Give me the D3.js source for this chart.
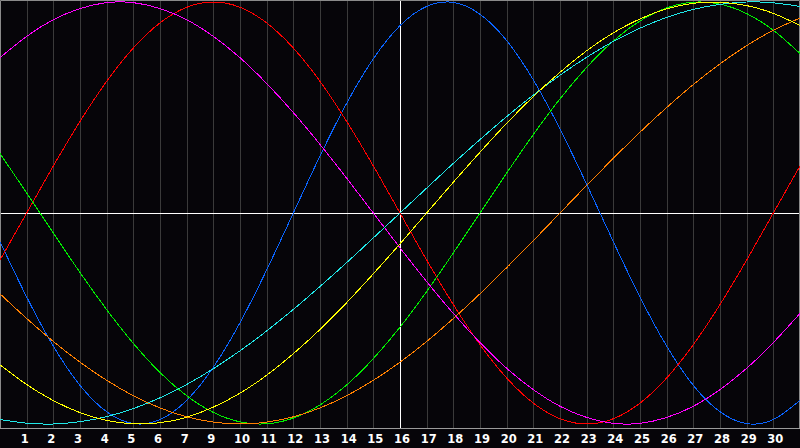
<!DOCTYPE html>
<html lang="en">
<head>
<meta charset="utf-8">
<title>Biorhythm</title>
<script type="text/javascript" src="https://d3js.org/d3.v7.min.js"></script>
<style>
  body { margin: 0; background: #060509; }
  svg { display: block; }
</style>
</head>
<body>
<div id="bod"></div>
<script type="text/javascript">
  // day labels under the grid lines (8 is not shown on the original)
  let dayLabels = [1,2,3,4,5,6,7,9,10,11,12,13,14,15,16,17,18,19,20,21,22,23,24,25,26,27,28,29,30]

  // readings per day column, 0..30
  let physical = [-0.136,-0.398,-0.631,-0.817,-0.942,-0.998,-0.979,-0.888,-0.731,-0.520,-0.270,0,0.270,0.520,0.731,0.888,0.979,0.998,0.942,0.817,0.631,0.398,0.136,-0.136,-0.398,-0.631,-0.817,-0.942,-0.998,-0.979,-0.888]
  let emotional = [-0.223,0,0.223,0.434,0.624,0.782,0.901,0.975,1,0.975,0.901,0.782,0.624,0.434,0.223,0,-0.223,-0.434,-0.624,-0.782,-0.901,-0.975,-1,-0.975,-0.901,-0.782,-0.624,-0.434,-0.223,0,0.223]
  let intellectual = [0.282,0.095,-0.095,-0.282,-0.458,-0.618,-0.756,-0.866,-0.945,-0.990,-0.999,-0.972,-0.910,-0.815,-0.690,-0.541,-0.372,-0.189,0,0.189,0.372,0.541,0.690,0.815,0.910,0.972,0.999,0.990,0.945,0.866,0.756]
  let intuitive = [0.736,0.837,0.916,0.969,0.997,0.997,0.969,0.916,0.837,0.736,0.614,0.476,0.325,0.165,0,-0.165,-0.325,-0.476,-0.614,-0.736,-0.837,-0.916,-0.969,-0.997,-0.997,-0.969,-0.916,-0.837,-0.736,-0.614,-0.476]
  let aesthetic = [-0.720,-0.813,-0.889,-0.946,-0.983,-0.999,-0.994,-0.968,-0.920,-0.854,-0.769,-0.667,-0.552,-0.425,-0.288,-0.146,0,0.146,0.288,0.425,0.552,0.667,0.769,0.854,0.920,0.968,0.994,0.999,0.983,0.946,0.889]
  let awareness = [-0.383,-0.5,-0.609,-0.707,-0.793,-0.866,-0.924,-0.966,-0.991,-1,-0.991,-0.966,-0.924,-0.866,-0.793,-0.707,-0.609,-0.5,-0.383,-0.259,-0.131,0,0.131,0.259,0.383,0.5,0.609,0.707,0.793,0.866,0.924]
  let spiritual = [-0.979,-0.996,-1,-0.989,-0.965,-0.927,-0.876,-0.813,-0.738,-0.653,-0.559,-0.457,-0.348,-0.235,-0.118,0,0.118,0.235,0.348,0.457,0.559,0.653,0.738,0.813,0.876,0.927,0.965,0.989,1,0.996,0.979]

  let series = [
    {name: "physical", values: physical, color: "#0a64ff"},
    {name: "emotional", values: emotional, color: "#ff0000"},
    {name: "intellectual", values: intellectual, color: "#00ee00"},
    {name: "intuitive", values: intuitive, color: "#ff00ff"},
    {name: "awareness", values: awareness, color: "#ff8000"},
    {name: "spiritual", values: spiritual, color: "#20e8e8"},
    {name: "aesthetic", values: aesthetic, color: "#ffff00"}
  ]

  let w = 800
  let h = 448
  let plotBottom = 428

  let svg = d3.select("#bod")
              .append("svg")
              .attr("width", w)
              .attr("height", h);

  svg.append("rect")
      .attr("width", w)
      .attr("height", h)
      .attr("fill", "#060509");

  var x = d3.scaleLinear()
      .domain([0, 30])
      .range([0, w]);
  var y = d3.scaleLinear()
      .domain([-1, 1])
      .range([424, 2]);

  // vertical grid lines, one per day
  let days = d3.range(1, 30)
  svg.append("g")
    .selectAll("line")
    .data(days)
    .enter().append("line")
      .attr("x1", d => Math.round(x(d)) + 0.5)
      .attr("x2", d => Math.round(x(d)) + 0.5)
      .attr("y1", 0)
      .attr("y2", plotBottom)
      .attr("stroke", d => d == 15 ? "#ffffff" : "#3a3a3a")
      .attr("stroke-width", 1);

  // zero line
  svg.append("line")
      .attr("x1", 0)
      .attr("x2", w)
      .attr("y1", Math.round(y(0)) + 0.5)
      .attr("y2", Math.round(y(0)) + 0.5)
      .attr("stroke", "#ffffff");

  // frame
  svg.append("path")
      .attr("d", "M0.5," + plotBottom + "V0.5H799.5V" + plotBottom)
      .attr("fill", "none")
      .attr("stroke", "#8a8a8a");
  svg.append("line")
      .attr("x1", 0)
      .attr("x2", w)
      .attr("y1", plotBottom + 0.5)
      .attr("y2", plotBottom + 0.5)
      .attr("stroke", "#9a9a9a");

  var line = d3.line()
      .x(function(d, i) { return x(i); })
      .y(function(d) { return y(d); })
      .curve(d3.curveNatural);

  svg.append("g")
    .selectAll("path")
    .data(series)
    .enter().append("path")
      .attr("d", d => line(d.values))
      .attr("fill", "none")
      .attr("stroke", d => d.color)
      .attr("stroke-width", 1)
      .attr("shape-rendering", "crispEdges");

  // day numbers
  svg.append("g")
    .selectAll("text")
    .data(dayLabels)
    .enter().append("text")
      .attr("x", (d, i) => x(i + 1) - 6)
      .attr("y", 443)
      .attr("fill", "#ffffff")
      .attr("font-family", "DejaVu Sans")
      .attr("font-weight", "bold")
      .attr("font-size", "11.5px")
      .text(d => d);
</script>
</body>
</html>
